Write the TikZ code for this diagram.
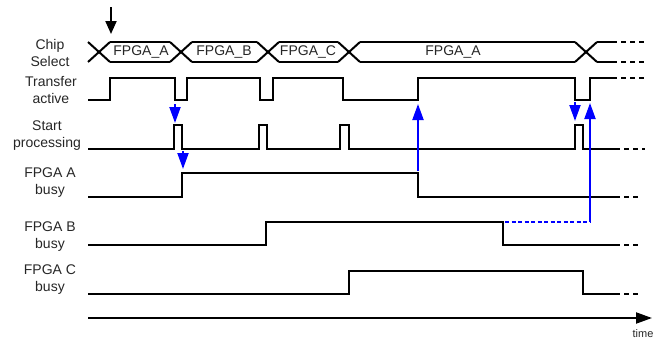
\documentclass[tikz,border=0pt]{standalone}
\usepackage{fontspec}
\setmainfont{Liberation Sans}
\usetikzlibrary{arrows.meta}
\begin{document}
\begin{tikzpicture}[x=1pt,y=-1pt,
  sig/.style={black,line width=2pt,line join=miter},
  cont/.style={black,line width=2pt,dash pattern=on 5pt off 4pt},
  lbl/.style={font=\fontsize{14}{17}\selectfont,align=center,inner sep=0pt,text=black!85},
  bustxt/.style={font=\fontsize{14}{17}\selectfont,inner sep=0pt,text=black!85},
  barrow/.style={blue,line width=2pt,-{Triangle[length=16pt,width=11pt]}},
  bdot/.style={blue,line width=2pt,dash pattern=on 4pt off 2.5pt}]
\useasboundingbox (0,0) rectangle (662,340);
% labels
\node[lbl] (lcs) at (50,52.5) {Chip\\Select};
\node[lbl] (lta) at (51,90) {Transfer\\active};
\node[lbl] (lsp) at (47,136) {Start\\processing};
\node[lbl] (lab) at (50,183) {FPGA A\\busy};
\node[lbl] (lbb) at (50,237) {FPGA B\\busy};
\node[lbl] (lcb) at (50,280) {FPGA C\\busy};
% top marker arrow
\coordinate (mk0) at (111,7);
\coordinate (mk1) at (111,34);
\draw[black,line width=2pt,-{Triangle[length=13pt,width=11pt]}] (mk0) -- (mk1);
% chip select bus
\foreach \c in {99,181,268,349,586}{
  \draw[sig] (\c-11,42) -- (\c+11,62);
  \draw[sig] (\c-11,62) -- (\c+11,42);
}
\foreach \a/\b in {110/170,192/257,279/338,360/575,597/612}{
  \draw[sig] (\a,42) -- (\b,42);
  \draw[sig] (\a,62) -- (\b,62);
}
\draw[cont] (612,42) -- (645,42);
\draw[cont] (612,62) -- (645,62);
\node[bustxt] (b1) at (141,52) {FPGA\_A};
\node[bustxt] (b2) at (224,52) {FPGA\_B};
\node[bustxt] (b3) at (308,52) {FPGA\_C};
\node[bustxt] (b4) at (453,52) {FPGA\_A};
% transfer active
\draw[sig] (88,100) -- (110,100) -- (110,78) -- (175,78) -- (175,100) -- (187,100) -- (187,78)
  -- (260,78) -- (260,100) -- (273,100) -- (273,78) -- (343,78) -- (343,100) -- (418,100)
  -- (418,78) -- (575,78) -- (575,100) -- (590,100) -- (590,78) -- (612,78);
\draw[cont] (612,78) -- (645,78);
% start processing
\draw[sig] (88,149) -- (174,149) -- (174,125) -- (182,125) -- (182,149) -- (259,149) -- (259,125)
  -- (267,125) -- (267,149) -- (340,149) -- (340,125) -- (349,125) -- (349,149) -- (575,149)
  -- (575,125) -- (583,125) -- (583,149) -- (615,149);
\draw[cont] (615,149) -- (645,149);
% FPGA A busy
\draw[sig] (88,197) -- (182,197) -- (182,173) -- (418,173) -- (418,197) -- (615,197);
\draw[cont] (615,197) -- (640,197);
% FPGA B busy
\draw[sig] (88,245) -- (266,245) -- (266,222) -- (503,222) -- (503,245) -- (615,245);
\draw[cont] (615,245) -- (640,245);
% FPGA C busy
\draw[sig] (88,294) -- (349,294) -- (349,271) -- (583,271) -- (583,294) -- (615,294);
\draw[cont] (615,294) -- (640,294);
% time axis
\coordinate (t0) at (88,318);
\coordinate (t1) at (652,318);
\draw[black,line width=2pt,-{Triangle[length=16pt,width=11pt]}] (t0) -- (t1);
\node[font=\fontsize{11}{13}\selectfont,inner sep=0pt,text=black!85] (time) at (643,334) {time};
% blue causality arrows
\coordinate (a1s) at (175,104);
\coordinate (a1e) at (175,123);
\coordinate (a2s) at (183,151);
\coordinate (a2e) at (183,169);
\coordinate (a3s) at (418,171);
\coordinate (a3e) at (418,104);
\coordinate (a4s) at (575,102);
\coordinate (a4e) at (575,121);
\coordinate (dA) at (505,222);
\coordinate (dB) at (590,222);
\coordinate (a5e) at (590,103);
\draw[barrow] (a1s) -- (a1e);
\draw[barrow] (a2s) -- (a2e);
\draw[barrow] (a3s) -- (a3e);
\draw[barrow] (a4s) -- (a4e);
\draw[bdot] (dA) -- (dB);
\draw[barrow] (dB) -- (a5e);
\end{tikzpicture}
\end{document}
